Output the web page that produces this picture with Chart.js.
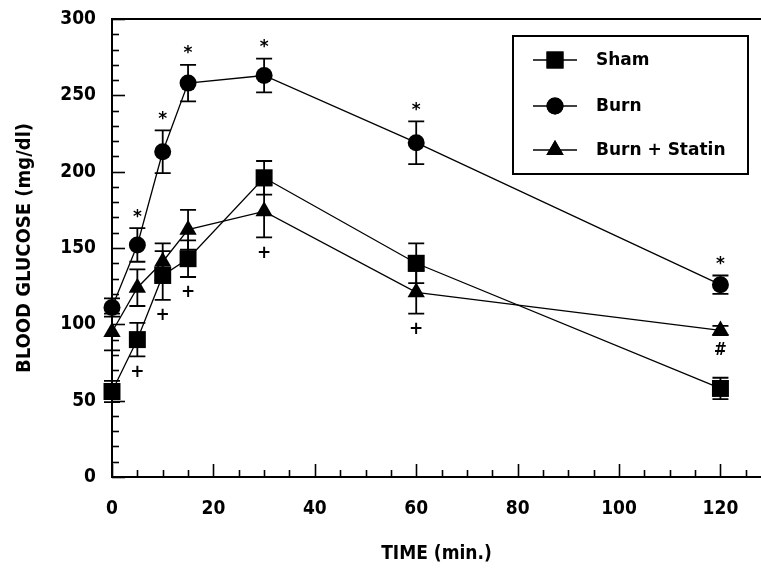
<!DOCTYPE html>
<html>
<head>
<meta charset="utf-8">
<script src="https://cdn.jsdelivr.net/npm/chart.js@4"></script>
<style>
html,body{margin:0;padding:0;background:#fff;}
#wrap{width:761px;height:574px;position:relative;}
</style>
</head>
<body>
<div id="wrap"><canvas id="c" width="761" height="574"></canvas></div>
<script>
// ---- data ----
const times = [0, 5, 10, 15, 30, 60, 120];
const shamMean   = [56, 90, 132, 143, 196, 140, 58];
const shamErr    = [7, 11, 16, 12, 11, 13, 7];
const burnMean   = [111, 152, 213, 258, 263, 219, 126];
const burnErr    = [6, 11, 14, 12, 11, 14, 6];
const statinMean = [95, 124, 141, 162, 174, 121, 96];
const statinErr  = [12, 12, 12, 13, 17, 14, 3];
// significance marks: placed above (burn) or below a series
const burnMarks   = ['', '*', '*', '*', '*', '*', '*'];
const shamMarks   = ['', '+', '+', '+', '', '', ''];
const statinMarks = ['', '', '', '', '+', '+', '#'];
const xTickLabels = [0, 20, 40, 60, 80, 100, 120];
const yTickLabels = [0, 50, 100, 150, 200, 250, 300];
const xMinorStep = 5, yMinorStep = 10;
const seriesNames = ['Sham', 'Burn', 'Burn + Statin'];

const pts = (m) => times.map((t, i) => ({x: t, y: m[i]}));
const TICK_FONT = {family: "'DejaVu Sans Condensed', 'DejaVu Sans', sans-serif", weight: 'bold', size: 19};
const YTITLE_FONT = {family: "'DejaVu Sans Condensed', 'DejaVu Sans', sans-serif", weight: 'bold', size: 20};

const datasets = [
  {label: seriesNames[0], data: pts(shamMean), err: shamErr, marks: shamMarks, markPos: 'below',
   pointStyle: 'rect', pointRadius: 12, pointHoverRadius: 12},
  {label: seriesNames[1], data: pts(burnMean), err: burnErr, marks: burnMarks, markPos: 'above',
   pointStyle: 'circle', pointRadius: 8.5, pointHoverRadius: 8.5},
  {label: seriesNames[2], data: pts(statinMean), err: statinErr, marks: statinMarks, markPos: 'below',
   pointStyle: 'triangle', pointRadius: 10, pointHoverRadius: 10}
].map(d => Object.assign({
  borderColor: '#000', backgroundColor: '#000', pointBackgroundColor: '#000',
  pointBorderColor: '#000', borderWidth: 1.3, pointBorderWidth: 0, tension: 0, fill: false, clip: false
}, d));

const decor = {
  id: 'decor',
  beforeDatasetsDraw(chart) {
    const ctx = chart.ctx, xs = chart.scales.x, ys = chart.scales.y, ca = chart.chartArea;
    ctx.save();
    ctx.strokeStyle = '#000';
    // top frame line
    ctx.lineWidth = 2;
    ctx.beginPath(); ctx.moveTo(ca.left, ca.top); ctx.lineTo(chart.width, ca.top); ctx.stroke();
    // inward ticks
    ctx.lineWidth = 1.6;
    for (let v = ys.min; v <= ys.max + 1e-9; v += yMinorStep) {
      const y = Math.round(ys.getPixelForValue(v)) + 0.5;
      const len = yTickLabels.includes(v) ? 13 : 7;
      ctx.beginPath(); ctx.moveTo(ca.left, y); ctx.lineTo(ca.left + len, y); ctx.stroke();
    }
    for (let v = 0; v <= xs.max + 1e-9; v += xMinorStep) {
      const x = Math.round(xs.getPixelForValue(v)) + 0.5;
      const len = xTickLabels.includes(v) ? 13 : 7;
      ctx.beginPath(); ctx.moveTo(x, ca.bottom); ctx.lineTo(x, ca.bottom - len); ctx.stroke();
    }
    // error bars
    ctx.lineWidth = 1.8;
    chart.data.datasets.forEach(ds => {
      ds.data.forEach((p, i) => {
        const x = xs.getPixelForValue(p.x);
        const y1 = ys.getPixelForValue(p.y + ds.err[i]);
        const y2 = ys.getPixelForValue(p.y - ds.err[i]);
        ctx.beginPath();
        ctx.moveTo(x, y1); ctx.lineTo(x, y2);
        ctx.moveTo(x - 8, y1); ctx.lineTo(x + 8, y1);
        ctx.moveTo(x - 8, y2); ctx.lineTo(x + 8, y2);
        ctx.stroke();
      });
    });
    ctx.restore();
  },
  afterDatasetsDraw(chart) {
    const ctx = chart.ctx, xs = chart.scales.x, ys = chart.scales.y;
    ctx.save();
    ctx.fillStyle = '#000';
    ctx.textAlign = 'center';
    ctx.textBaseline = 'middle';
    chart.data.datasets.forEach(ds => {
      ds.data.forEach((p, i) => {
        const m = ds.marks[i];
        if (!m) return;
        const x = xs.getPixelForValue(p.x);
        if (ds.markPos === 'above') {
          const y = ys.getPixelForValue(p.y + ds.err[i]) - 11;
          ctx.font = "bold 17px 'DejaVu Sans', sans-serif";
          ctx.fillText(m, x, y);
        } else {
          const y = ys.getPixelForValue(p.y - ds.err[i]) + 16;
          ctx.font = m === '#' ? "bold 17px 'DejaVu Sans Condensed', sans-serif" : "bold 17px 'DejaVu Sans', sans-serif";
          ctx.fillText(m, x, y);
        }
      });
    });
    // legend
    const bx = 513, by = 36, bw = 235, bh = 138;
    ctx.lineWidth = 2;
    ctx.strokeStyle = '#000';
    ctx.strokeRect(bx, by, bw, bh);
    const rows = [60, 106, 150];
    ctx.textAlign = 'left';
    ctx.font = "bold 17px 'DejaVu Sans', sans-serif";
    chart.data.datasets.forEach((ds, i) => {
      const y = rows[i];
      ctx.lineWidth = 1.5;
      ctx.beginPath(); ctx.moveTo(533, y); ctx.lineTo(577, y); ctx.stroke();
      Chart.helpers.drawPoint(ctx, {pointStyle: ds.pointStyle, radius: ds.pointRadius, borderWidth: 0, rotation: 0}, 555, y);
      ctx.fill();
      ctx.fillText(ds.label, 596, y + 1);
    });
    ctx.restore();
  }
};

new Chart(document.getElementById('c'), {
  type: 'line',
  data: {datasets},
  options: {
    responsive: false,
    animation: false,
    layout: {autoPadding: false, padding: {top: 19, right: 0, left: 0, bottom: 0}},
    plugins: {legend: {display: false}, tooltip: {enabled: false}},
    elements: {point: {borderWidth: 0}},
    scales: {
      x: {
        type: 'linear', min: 0, max: 128,
        afterBuildTicks: (s) => { s.ticks = xTickLabels.map(v => ({value: v})); },
        afterFit: (s) => { s.height = 97; s.paddingLeft = 0; s.paddingRight = 0; },
        grid: {display: false, drawTicks: false},
        border: {display: true, color: '#000', width: 2},
        ticks: {color: '#000', font: TICK_FONT, padding: 21, maxRotation: 0, autoSkip: false},
        title: {display: true, text: 'TIME (min.)', color: '#000', font: TICK_FONT, padding: {top: 0, bottom: 9}}
      },
      y: {
        type: 'linear', min: 0, max: 300,
        afterBuildTicks: (s) => { s.ticks = yTickLabels.map(v => ({value: v})); },
        afterFit: (s) => { s.width = 112; s.paddingTop = 0; s.paddingBottom = 0; },
        grid: {display: false, drawTicks: false},
        border: {display: true, color: '#000', width: 2},
        ticks: {color: '#000', font: TICK_FONT, padding: 16},
        title: {display: true, text: 'BLOOD GLUCOSE (mg/dl)', color: '#000', font: YTITLE_FONT, padding: {top: 13, bottom: 0}}
      }
    }
  },
  plugins: [decor]
});
</script>
</body>
</html>
